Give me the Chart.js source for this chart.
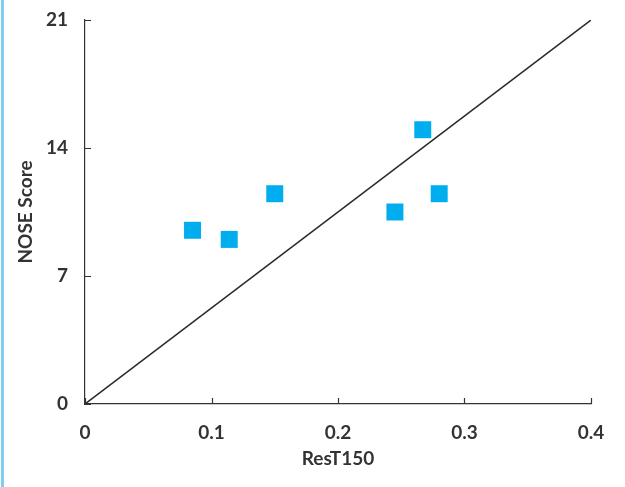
<!DOCTYPE html>
<html lang="en">
<head>
  <meta charset="UTF-8" />
  <title>NOSE Score vs ResT150</title>
  <script src="https://cdn.jsdelivr.net/npm/chart.js"></script>
  <style>
    body {
      margin: 0;
      background: #fff;
    }
    .wrap {
      position: relative;
      width: 625px;
      height: 487px;
    }
    .stripe {
      position: absolute;
      left: 1px;
      top: 0;
      width: 3px;
      height: 487px;
      background: #7dcff2; /* light blue edge */
    }
    canvas {
      display: block;
    }
  </style>
</head>
<body>
  <div class="wrap">
    <div class="stripe"></div>
    <canvas id="scatter" width="625" height="487"></canvas>
  </div>

  <script>
    // measured points
    const resT150 = [0.085, 0.114, 0.150, 0.245, 0.267, 0.280];
    const noseScore = [9.5, 9.0, 11.5, 10.5, 15.0, 11.5];

    // reference line
    const lineX = [0, 0.4];
    const lineY = [0, 21];

    const xTicks = [0, 0.1, 0.2, 0.3, 0.4];
    const yTicks = [0, 7, 14, 21];

    const axisColor = '#333';
    const font = { family: 'Lato', size: 19, weight: 'bold' };

    // small tick marks pointing into the plot area
    const innerTicks = {
      id: 'innerTicks',
      afterDraw(chart) {
        const c = chart.ctx;
        const xs = chart.scales.x, ys = chart.scales.y;
        const area = chart.chartArea;
        c.save();
        c.strokeStyle = axisColor;
        c.lineWidth = 1.2;
        c.beginPath();
        xTicks.forEach(v => {
          const px = Math.round(xs.getPixelForValue(v)) + 0.5;
          c.moveTo(px, area.bottom);
          c.lineTo(px, area.bottom - 6);
        });
        yTicks.forEach(v => {
          const py = Math.round(ys.getPixelForValue(v)) + 0.5;
          c.moveTo(area.left, py);
          c.lineTo(area.left + 6, py);
        });
        c.stroke();
        c.restore();
      }
    };

    new Chart(document.getElementById('scatter'), {
      type: 'scatter',
      data: {
        datasets: [
          {
            type: 'line',
            data: lineX.map((x, i) => ({ x: x, y: lineY[i] })),
            borderColor: '#2b2b2b',
            borderWidth: 1.5,
            pointRadius: 0,
            fill: false
          },
          {
            data: resT150.map((x, i) => ({ x: x, y: noseScore[i] })),
            pointStyle: 'rect',
            pointRadius: 12,
            pointBorderWidth: 0,
            backgroundColor: '#00aeef'
          }
        ]
      },
      options: {
        responsive: false,
        animation: false,
        layout: { padding: { top: 20, right: 34, left: 0, bottom: 0 } },
        plugins: {
          legend: { display: false },
          tooltip: { enabled: false }
        },
        scales: {
          x: {
            type: 'linear',
            min: 0,
            max: 0.4,
            afterFit(scale) {
              scale.height = 83;
              scale.paddingLeft = 0;
              scale.paddingRight = 0;
            },
            afterBuildTicks(scale) { scale.ticks = xTicks.map(v => ({ value: v })); },
            grid: { drawOnChartArea: false, drawTicks: false },
            border: { color: axisColor, width: 1.2 },
            ticks: {
              padding: 17,
              color: '#333',
              font: font,
              callback: v => String(v)
            },
            title: {
              display: true,
              text: 'ResT150',
              color: '#333',
              font: { family: 'Lato', size: 19, weight: 'bold' },
              padding: { top: 0, bottom: 17 }
            }
          },
          y: {
            type: 'linear',
            min: 0,
            max: 21,
            afterFit(scale) {
              scale.width = 85;
              scale.paddingTop = 0;
              scale.paddingBottom = 0;
            },
            afterBuildTicks(scale) { scale.ticks = yTicks.map(v => ({ value: v })); },
            grid: { drawOnChartArea: false, drawTicks: false },
            border: { color: axisColor, width: 1.2 },
            ticks: {
              padding: 17,
              color: '#333',
              font: font,
              callback: v => String(v)
            },
            title: {
              display: true,
              text: 'NOSE Score',
              color: '#333',
              font: { family: 'Lato', size: 19, weight: 'bold' },
              padding: { top: 14, bottom: 0 }
            }
          }
        }
      },
      plugins: [innerTicks]
    });
  </script>
</body>
</html>
